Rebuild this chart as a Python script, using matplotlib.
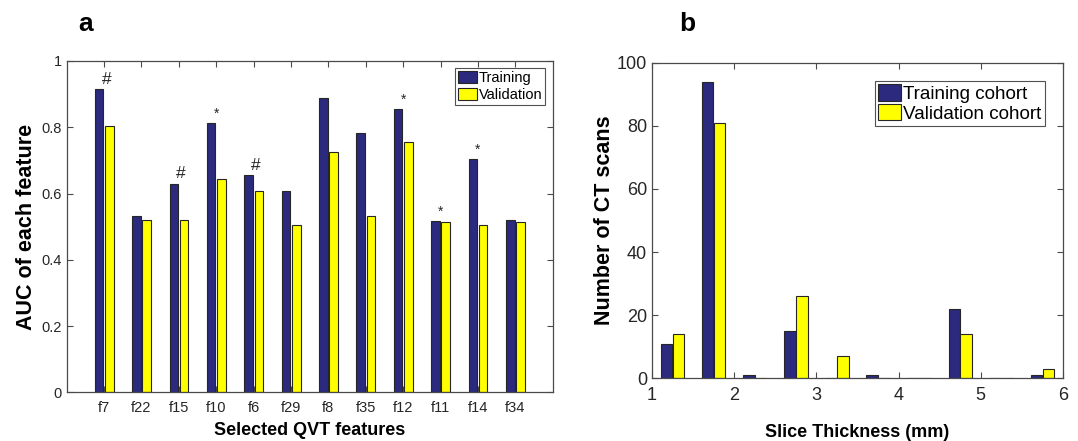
import matplotlib
matplotlib.use("Agg")
import matplotlib.pyplot as plt
import numpy as np

plt.rcParams['font.family'] = ['Liberation Sans', 'DejaVu Sans']

# ---- Panel a data ----
features = ['f7', 'f22', 'f15', 'f10', 'f6', 'f29', 'f8', 'f35', 'f12', 'f11', 'f14', 'f34']
auc_training = [0.914, 0.531, 0.630, 0.814, 0.655, 0.608, 0.889, 0.784, 0.854, 0.517, 0.705, 0.520]
auc_validation = [0.805, 0.521, 0.519, 0.643, 0.608, 0.504, 0.726, 0.532, 0.757, 0.515, 0.504, 0.515]
marks = ['#', '', '#', '*', '#', '', '', '', '*', '*', '*', '']
a_yticks = [0, 0.2, 0.4, 0.6, 0.8, 1.0]
a_yticklabels = ['0', '0.2', '0.4', '0.6', '0.8', '1']

# ---- Panel b data ----
thickness_centers = [1.25, 1.75, 2.25, 2.75, 3.25, 3.75, 4.25, 4.75, 5.25, 5.75]
ct_training = [11, 94, 1, 15, 0, 1, 0, 22, 0, 1]
ct_validation = [14, 81, 0, 26, 7, 0, 0, 14, 0, 3]
b_xticks = [1, 2, 3, 4, 5, 6]
b_yticks = [0, 20, 40, 60, 80, 100]

NAVY = '#2b2a7e'
YELLOW = '#ffff00'
EDGE = '#262626'
AXC = '#4a4a4a'
W, H = 1078, 441

fig = plt.figure(figsize=(W/100, H/100), dpi=100)

def style_axes(ax, fs):
    for s in ax.spines.values():
        s.set_color(AXC)
        s.set_linewidth(0.9)
    ax.tick_params(direction='in', top=True, right=True, length=4.5,
                   width=0.8, color=AXC, labelsize=fs, labelcolor='#262626')

def box(l, r, t, b):
    return [l/W, 1-b/H, (r-l)/W, (b-t)/H]

# Panel a
axa = fig.add_axes(box(66.7, 552.7, 61, 392.3))
x = np.arange(1, len(features)+1)
axa.bar(x-0.135, auc_training, width=0.23, color=NAVY, edgecolor=EDGE, linewidth=0.8, label='Training', zorder=2)
axa.bar(x+0.14, auc_validation, width=0.23, color=YELLOW, edgecolor=EDGE, linewidth=0.8, label='Validation', zorder=2)
for xi, v, m in zip(x, auc_training, marks):
    if m == '#':
        axa.text(xi+0.06, v+0.03, m, ha='center', va='center', fontsize=12.5, color='#262626')
    elif m == '*':
        axa.text(xi, v+0.028, m, ha='center', va='center', fontsize=10, color='#262626')
axa.set_xlim(0, 13)
axa.set_ylim(0, 1)
axa.set_xticks(x)
axa.set_xticklabels(features)
axa.set_yticks(a_yticks)
axa.set_yticklabels(a_yticklabels)
style_axes(axa, 10.5)
axa.tick_params(axis='x', pad=6)
axa.set_xlabel('Selected QVT features', fontsize=13, fontweight='bold', labelpad=5)
axa.set_ylabel('AUC of each feature', fontsize=15.5, fontweight='bold', labelpad=3)
leg = axa.legend(loc='upper right', fontsize=10.5, frameon=True, fancybox=False,
                 borderpad=0.2, handlelength=1.35, handleheight=0.9,
                 handletextpad=0.1, labelspacing=0.2, borderaxespad=0.5)
leg.get_frame().set_edgecolor('#262626')
leg.get_frame().set_linewidth(0.8)
fig.text(86/W, 1-24/H, 'a', fontsize=19, fontweight='bold', ha='center', va='center')

# Panel b
axb = fig.add_axes(box(652, 1063, 62.7, 378.3))
xc = np.array(thickness_centers)
axb.bar(xc-0.072, ct_training, width=0.14, color=NAVY, edgecolor=EDGE, linewidth=0.8, label='Training cohort', zorder=2)
axb.bar(xc+0.072, ct_validation, width=0.14, color=YELLOW, edgecolor=EDGE, linewidth=0.8, label='Validation cohort', zorder=2)
axb.set_xlim(1, 6)
axb.set_ylim(0, 100)
axb.set_xticks(b_xticks)
axb.set_yticks(b_yticks)
style_axes(axb, 13)
axb.tick_params(axis='x', pad=6)
axb.set_xlabel('Slice Thickness (mm)', fontsize=13, fontweight='bold', labelpad=15)
axb.set_ylabel('Number of CT scans', fontsize=15.5, fontweight='bold', labelpad=1)
legb = axb.legend(loc='upper right', fontsize=13.6, frameon=True, fancybox=False,
                  borderpad=0.2, handlelength=1.2, handleheight=0.95,
                  handletextpad=0.1, labelspacing=0.05, borderaxespad=0.95)
legb.get_frame().set_edgecolor('#262626')
legb.get_frame().set_linewidth(0.8)
fig.text(687/W, 1-24/H, 'b', fontsize=19, fontweight='bold', ha='center', va='center')

fig.savefig('out.png', dpi=100)
